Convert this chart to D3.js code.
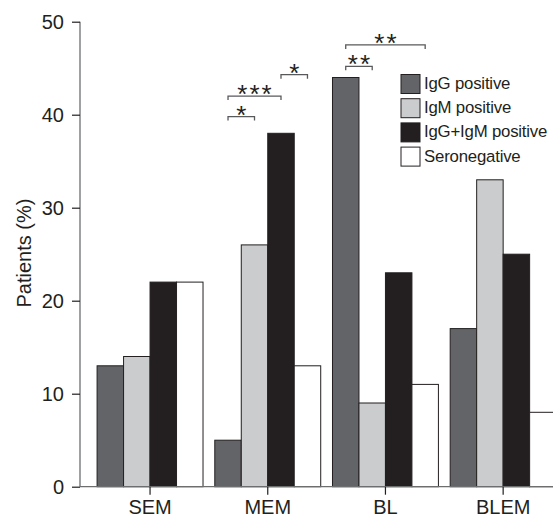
<!DOCTYPE html>
<html>
<head>
<meta charset="utf-8">
<script src="https://cdn.jsdelivr.net/npm/d3@7"></script>
<style>
  body { margin: 0; background: #fff; }
  text { font-family: "Liberation Sans", Arial, sans-serif; fill: #231f20; }
</style>
</head>
<body>
<svg width="553" height="519"></svg>
<script>
var categories = ["SEM", "MEM", "BL", "BLEM"];
var seriesNames = ["IgG positive", "IgM positive", "IgG+IgM positive", "Seronegative"];
var seriesColors = ["#636467", "#cbcccd", "#231f20", "#ffffff"];

var igg = [13, 5, 44, 17];
var igm = [14, 26, 9, 33];
var both = [22, 38, 23, 25];
var seroneg = [22, 13, 11, 8];

var yTicks = [0, 10, 20, 30, 40, 50];

// significance brackets: category, first series, second series, height (%), label
var sigCats = ["MEM", "MEM", "MEM", "BL", "BL"];
var sigFrom = [0, 0, 2, 0, 0];
var sigTo = [1, 2, 3, 1, 3];
var sigLevel = [39.8, 42.0, 44.3, 45.2, 47.5];
var sigLabels = ["*", "***", "*", "**", "**"];

var svg = d3.select("svg");

var x = d3.scaleBand()
    .domain(categories)
    .range([91.2, 562])
    .paddingInner(0.1)
    .paddingOuter(0.05);

var xs = d3.scaleBand()
    .domain(d3.range(seriesNames.length))
    .range([0, x.bandwidth()]);

var y = d3.scaleLinear()
    .domain([0, 50])
    .range([486.7, 21.7]);

var values = [igg, igm, both, seroneg];
var bars = [];
categories.forEach(function(c, i) {
    values.forEach(function(s, j) {
        bars.push({ cat: c, series: j, value: s[i] });
    });
});

svg.append("g")
    .selectAll("rect")
    .data(bars).enter()
    .append("rect")
    .attr("x", function(d) { return x(d.cat) + xs(d.series); })
    .attr("y", function(d) { return y(d.value); })
    .attr("width", xs.bandwidth())
    .attr("height", function(d) { return y(0) - y(d.value); })
    .style("fill", function(d) { return seriesColors[d.series]; })
    .style("stroke", "#231f20")
    .style("stroke-width", 1);

// y axis
var yAxis = svg.append("g")
    .attr("transform", "translate(80,0)")
    .call(d3.axisLeft(y).tickValues(yTicks).tickSize(8).tickPadding(8));
yAxis.select(".domain").attr("stroke", "#6d6e70").attr("stroke-width", 1.3)
    .attr("d", "M0," + y(50) + "V" + y(0));
yAxis.selectAll(".tick line").attr("stroke", "#231f20").attr("stroke-width", 1.2);
yAxis.selectAll(".tick text").style("font-size", "20px").attr("fill", "#231f20");

// x axis
var xAxis = svg.append("g")
    .attr("transform", "translate(0," + y(0) + ")")
    .call(d3.axisBottom(x).tickSize(8).tickPadding(5).tickSizeOuter(0));
xAxis.select(".domain").attr("stroke", "#6d6e70").attr("stroke-width", 1.3)
    .attr("d", "M80,0H553");
xAxis.selectAll(".tick line").attr("stroke", "#231f20").attr("stroke-width", 1.2);
xAxis.selectAll(".tick text").style("font-size", "20px").attr("fill", "#231f20");

svg.append("text")
    .attr("transform", "translate(30.5,253) rotate(-90)")
    .attr("text-anchor", "middle")
    .style("font-size", "20px")
    .text("Patients (%)");

// significance brackets
var brackets = sigCats.map(function(c, i) {
    return {
        x1: x(c) + xs(sigFrom[i]) + xs.bandwidth() / 2,
        x2: x(c) + xs(sigTo[i]) + xs.bandwidth() / 2,
        y: y(sigLevel[i]),
        label: sigLabels[i]
    };
});

var br = svg.append("g").selectAll("g")
    .data(brackets).enter()
    .append("g");

br.append("path")
    .attr("d", function(d) {
        return "M" + d.x1 + "," + (d.y + 4) + "V" + d.y + "H" + d.x2 + "V" + (d.y + 4);
    })
    .style("fill", "none")
    .style("stroke", "#58595b")
    .style("stroke-width", 1.3);

br.append("text")
    .attr("x", function(d) { return (d.x1 + d.x2) / 2 + 1; })
    .attr("y", function(d) { return d.y + 7; })
    .attr("text-anchor", "middle")
    .style("font-size", "26px")
    .style("letter-spacing", "2px")
    .attr("fill", "#58595b")
    .text(function(d) { return d.label; });

// legend
var legend = svg.append("g")
    .attr("transform", "translate(401,74.5)");

var item = legend.selectAll("g")
    .data(seriesNames).enter()
    .append("g")
    .attr("transform", function(d, i) { return "translate(0," + (i * 24.2) + ")"; });

item.append("rect")
    .attr("width", 19)
    .attr("height", 19)
    .style("fill", function(d, i) { return seriesColors[i]; })
    .style("stroke", "#231f20")
    .style("stroke-width", 1);

item.append("text")
    .attr("x", 23)
    .attr("y", 14.5)
    .style("font-size", "16.8px")
    .style("letter-spacing", "-0.2px")
    .text(function(d) { return d; });
</script>
</body>
</html>
